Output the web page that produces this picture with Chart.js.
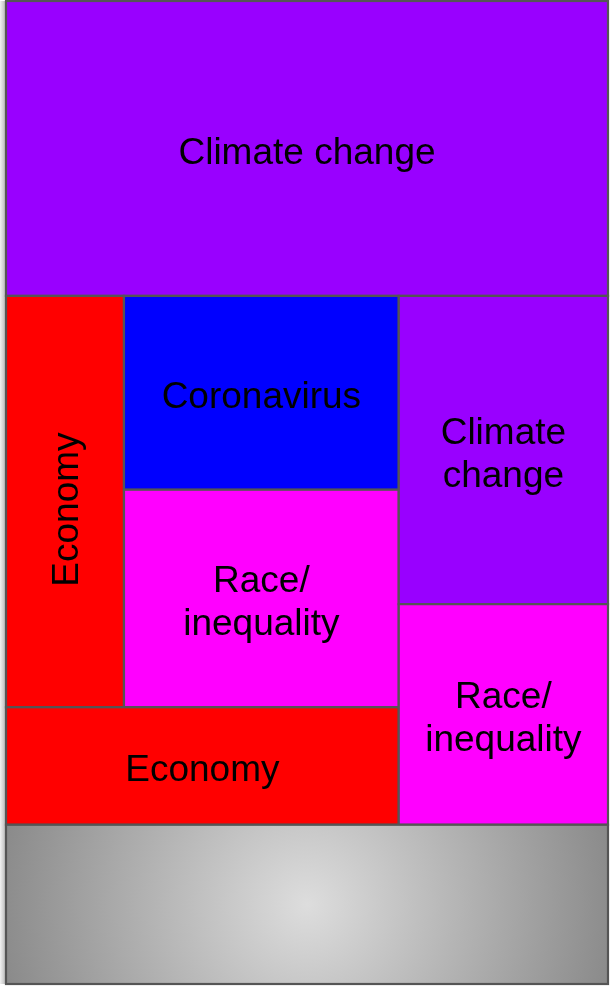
<!DOCTYPE html>
<html>
<head>
<meta charset="utf-8">
<style>
  html, body { margin: 0; padding: 0; background: #ffffff; }
  #wrap { width: 610px; height: 986px; position: relative; }
</style>
<script src="https://cdn.jsdelivr.net/npm/chart.js@4/dist/chart.umd.min.js"></script>
</head>
<body>
<div id="wrap"><canvas id="chart"></canvas></div>
<script>
// ---- data ----
const labels = ['Climate change', 'Economy', 'Coronavirus', 'Race/inequality', 'Economy', 'Climate change', 'Race/inequality', ''];
const values = [30, 8.2, 9, 10.1, 7.8, 10.9, 7.8, 16.2];
const colors = ['#9900ff', '#ff0000', '#0000ff', '#ff00ff', '#ff0000', '#9900ff', '#ff00ff', null];
// nesting of the treemap (indices into the arrays above), 'v' = stacked top-to-bottom, 'h' = side by side
const tree = { dir: 'v', children: [
  0,
  { dir: 'h', children: [
    { dir: 'v', children: [
      { dir: 'h', children: [1, { dir: 'v', children: [2, 3] }] },
      4
    ] },
    { dir: 'v', children: [5, 6] }
  ] },
  7
] };

// ---- slice-and-dice layout in data units (0..1) ----
function total(node) {
  return typeof node === 'number' ? values[node] : node.children.reduce((a, c) => a + total(c), 0);
}
function layout(node, x0, y0, x1, y1, out) {
  if (typeof node === 'number') { out[node] = { x0, y0, x1, y1 }; return out; }
  const t = total(node);
  let pos = node.dir === 'v' ? y0 : x0;
  node.children.forEach(c => {
    const f = total(c) / t;
    if (node.dir === 'v') { const n = pos + (y1 - y0) * f; layout(c, x0, pos, x1, n, out); pos = n; }
    else { const n = pos + (x1 - x0) * f; layout(c, pos, y0, n, y1, out); pos = n; }
  });
  return out;
}
const cells = layout(tree, 0, 0, 1, 1, []);

const FONT_SIZE = 37;
const FONT = FONT_SIZE + 'px "Liberation Sans", Arial, sans-serif';
const LINE_H = 43;

const treemapPlugin = {
  id: 'treemapCells',
  beforeDatasetsDraw(chart) {
    const { ctx, scales: { x, y }, chartArea } = chart;
    ctx.save();
    // soft shadow on the left edge
    const sg = ctx.createLinearGradient(0, 0, chartArea.left, 0);
    sg.addColorStop(0, '#f2f2f2');
    sg.addColorStop(1, '#b4b4b4');
    ctx.fillStyle = sg;
    ctx.fillRect(0, chartArea.top, chartArea.left, chartArea.bottom - chartArea.top);

    cells.forEach((r, i) => {
      const px0 = x.getPixelForValue(r.x0), px1 = x.getPixelForValue(r.x1);
      const py0 = y.getPixelForValue(r.y0), py1 = y.getPixelForValue(r.y1);
      const w = px1 - px0, h = py1 - py0;
      if (colors[i]) {
        ctx.fillStyle = colors[i];
      } else {
        const cx = px0 + w / 2, cy = py0 + h / 2;
        const g = ctx.createRadialGradient(cx, cy, 0, cx, cy, w / 2 + 10);
        g.addColorStop(0, '#dddddd');
        g.addColorStop(1, '#8a8a8a');
        ctx.fillStyle = g;
      }
      ctx.fillRect(px0, py0, w, h);
      ctx.lineWidth = 2.2;
      ctx.strokeStyle = '#555555';
      ctx.strokeRect(px0, py0, w, h);

      const label = labels[i];
      if (!label) return;
      ctx.font = FONT;
      ctx.fillStyle = '#000000';
      ctx.textAlign = 'center';
      ctx.textBaseline = 'alphabetic';
      const cx = px0 + w / 2, cy = py0 + h / 2 + 2;
      const capHalf = FONT_SIZE * 0.716 / 2;
      let lines = [label];
      let rotate = false;
      if (ctx.measureText(label).width > w - 40) {
        const parts = label.match(/[^ \/]+\/?/g);
        if (parts.length > 1) lines = parts;
        else if (h > w) rotate = true;
      }
      if (rotate) {
        ctx.translate(cx, cy + 6);
        ctx.rotate(-Math.PI / 2);
        ctx.fillText(label, 0, capHalf);
        ctx.setTransform(1, 0, 0, 1, 0, 0);
        return;
      }
      lines.forEach((ln, k) => {
        const by = cy - (lines.length - 1) * LINE_H / 2 + k * LINE_H + capHalf;
        ctx.fillText(ln, cx, by);
      });
    });
    ctx.restore();
  }
};

const centers = cells.map(r => ({ x: (r.x0 + r.x1) / 2, y: (r.y0 + r.y1) / 2 }));

new Chart(document.getElementById('chart'), {
  type: 'scatter',
  data: { datasets: [{ data: centers, pointRadius: 0, pointHoverRadius: 0 }] },
  options: {
    responsive: true,
    maintainAspectRatio: false,
    animation: false,
    layout: { padding: { left: 6, right: 2, top: 1, bottom: 2 } },
    scales: {
      x: { type: 'linear', min: 0, max: 1, display: false },
      y: { type: 'linear', min: 0, max: 1, reverse: true, display: false }
    },
    plugins: { legend: { display: false }, tooltip: { enabled: false } }
  },
  plugins: [treemapPlugin]
});
</script>
</body>
</html>
